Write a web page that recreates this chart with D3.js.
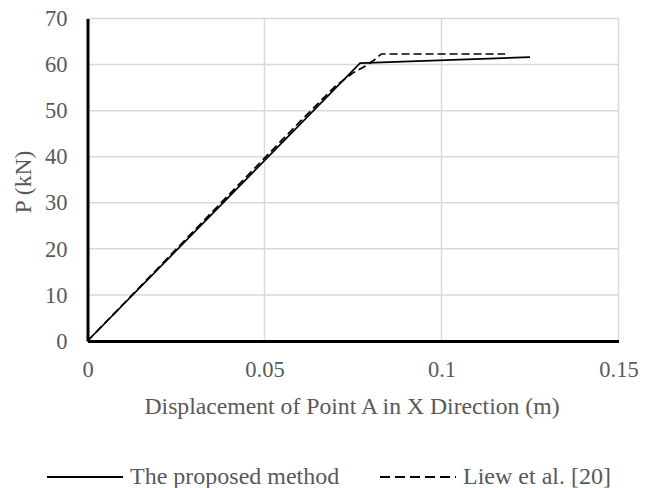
<!DOCTYPE html>
<html>
<head>
<meta charset="utf-8">
<script src="https://cdn.jsdelivr.net/npm/d3@7"></script>
<style>
  body { margin: 0; background: #fff; }
  text { font-family: "Liberation Serif", "Times New Roman", serif; fill: #595959; }
</style>
</head>
<body>
<script>
// data
const proposedX = [0, 0.077, 0.125]
const proposedP = [0, 60.3, 61.6]
const liewX = [0, 0.04, 0.06, 0.07, 0.075, 0.079, 0.0815, 0.083, 0.118]
const liewP = [0, 31.8, 47.6, 55.3, 58.2, 59.9, 61.3, 62.3, 62.3]
const xTicks = [0, 0.05, 0.1, 0.15]
const yTicks = [0, 10, 20, 30, 40, 50, 60, 70]
const seriesNames = ["The proposed method", "Liew et al. [20]"]

const WIDTH = 651
const HEIGHT = 488

const svg = d3.select("body").append("svg")
  .attr("width", WIDTH).attr("height", HEIGHT)

const x = d3.scaleLinear().domain([0, 0.15]).range([87.5, 618.5])
const y = d3.scaleLinear().domain([0, 70]).range([341, 18.5])

// gridlines
svg.append("g").selectAll("line.h")
  .data(yTicks.slice(1)).enter().append("line")
  .attr("x1", x(0)).attr("x2", x(0.15))
  .attr("y1", d => y(d)).attr("y2", d => y(d))
  .attr("stroke", "#d9d9d9").attr("stroke-width", 1.5)
svg.append("g").selectAll("line.v")
  .data(xTicks.slice(1)).enter().append("line")
  .attr("x1", d => x(d)).attr("x2", d => x(d))
  .attr("y1", y(0)).attr("y2", y(70))
  .attr("stroke", "#d9d9d9").attr("stroke-width", 1.5)

// axes
const xAxis = svg.append("g")
  .attr("transform", "translate(0," + y(0) + ")")
  .call(d3.axisBottom(x).tickValues(xTicks).tickSize(0).tickPadding(20)
    .tickFormat(d => String(d)))
const yAxis = svg.append("g")
  .attr("transform", "translate(" + x(0) + ",0)")
  .call(d3.axisLeft(y).tickValues(yTicks).tickSize(0).tickPadding(20))

for (const ax of [xAxis, yAxis]) {
  ax.select(".domain").attr("stroke", "#000").attr("stroke-width", 3)
  ax.selectAll("text").attr("font-size", 22.5).attr("fill", "#595959")
    .attr("font-family", "Liberation Serif")
}

// lines
const line = d3.line().x(d => x(d[0])).y(d => y(d[1]))
const proposed = proposedX.map((v, i) => [v, proposedP[i]])
const liew = liewX.map((v, i) => [v, liewP[i]])

svg.append("path").datum(liew)
  .attr("d", line).attr("fill", "none")
  .attr("stroke", "#000").attr("stroke-width", 1.7)
  .attr("stroke-dasharray", "8,4")
svg.append("path").datum(proposed)
  .attr("d", line).attr("fill", "none")
  .attr("stroke", "#000").attr("stroke-width", 1.7)

// axis titles
svg.append("text")
  .attr("x", 352).attr("y", 414)
  .attr("text-anchor", "middle").attr("font-size", 23.7)
  .text("Displacement of Point A in X Direction (m)")
svg.append("text")
  .attr("transform", "translate(31,182) rotate(-90)")
  .attr("text-anchor", "middle").attr("font-size", 23.7)
  .text("P (kN)")

// legend
const legend = svg.append("g")
const legendX = [47, 380]
legend.selectAll("line")
  .data(seriesNames).enter().append("line")
  .attr("x1", (d, i) => legendX[i]).attr("x2", (d, i) => legendX[i] + 76)
  .attr("y1", 477).attr("y2", 477)
  .attr("stroke", "#000").attr("stroke-width", 2)
  .attr("stroke-dasharray", (d, i) => i == 1 ? "10,5" : null)
legend.selectAll("text")
  .data(seriesNames).enter().append("text")
  .attr("x", (d, i) => legendX[i] + 83).attr("y", 484)
  .attr("font-size", 24)
  .text(d => d)
</script>
</body>
</html>
